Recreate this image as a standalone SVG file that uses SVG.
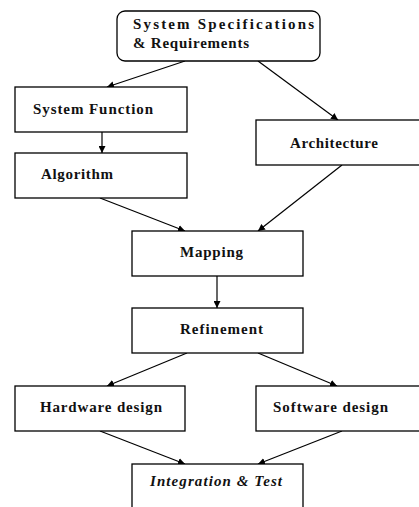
<svg xmlns="http://www.w3.org/2000/svg" width="419" height="507" viewBox="0 0 419 507">
<defs>
<marker id="ah" viewBox="0 0 10 10" refX="10" refY="5" markerWidth="7" markerHeight="7" markerUnits="userSpaceOnUse" orient="auto">
<path d="M0,0 L10,5 L0,10 z" fill="#000"/>
</marker>
</defs>
<style>
rect{fill:#fff;stroke:#000;stroke-width:1.3}
text{font-family:"Liberation Serif","Times New Roman",serif;font-weight:bold;font-size:15px;fill:#111}
.c line{stroke:#000;stroke-width:1.2;marker-end:url(#ah)}
</style>
<rect x="0" y="0" width="419" height="507" style="stroke:none;fill:#fff"/>
<g class="c" id="connectors">
<line x1="185" y1="61" x2="107" y2="87"/>
<line x1="258" y1="61" x2="338" y2="120"/>
<line x1="102" y1="132" x2="102" y2="153"/>
<line x1="100" y1="198" x2="185" y2="231"/>
<line x1="342" y1="165" x2="258" y2="231"/>
<line x1="217" y1="276" x2="217" y2="308"/>
<line x1="187" y1="353" x2="107" y2="386"/>
<line x1="258" y1="353" x2="337" y2="386"/>
<line x1="100" y1="431" x2="185" y2="464"/>
<line x1="342" y1="431" x2="258" y2="464"/>
</g>
<g id="spec">
<rect x="117" y="11" width="203" height="50" rx="8"/>
<text x="133" y="29" textLength="181" lengthAdjust="spacing">System Specifications</text>
<text x="133" y="48" textLength="116" lengthAdjust="spacing">&amp; Requirements</text>
</g>
<g id="sysfunc">
<rect x="15" y="87" width="172" height="45"/>
<text x="33" y="114" textLength="120" lengthAdjust="spacing">System Function</text>
</g>
<g id="arch">
<rect x="256" y="120" width="170" height="45"/>
<text x="290" y="148" textLength="88" lengthAdjust="spacing">Architecture</text>
</g>
<g id="algo">
<rect x="15" y="153" width="172" height="45"/>
<text x="41" y="179" textLength="72" lengthAdjust="spacing">Algorithm</text>
</g>
<g id="mapping">
<rect x="132" y="231" width="171" height="45"/>
<text x="180" y="257" textLength="63" lengthAdjust="spacing">Mapping</text>
</g>
<g id="refine">
<rect x="132" y="308" width="171" height="45"/>
<text x="180" y="334" textLength="83" lengthAdjust="spacing">Refinement</text>
</g>
<g id="hw">
<rect x="15" y="386" width="170" height="45"/>
<text x="40" y="412" textLength="122" lengthAdjust="spacing">Hardware design</text>
</g>
<g id="sw">
<rect x="256" y="386" width="170" height="45"/>
<text x="273" y="412" textLength="115" lengthAdjust="spacing">Software design</text>
</g>
<g id="integ">
<rect x="132" y="464" width="171" height="55"/>
<text x="150" y="486" textLength="132" lengthAdjust="spacing" font-style="italic">Integration &amp; Test</text>
</g>
</svg>
